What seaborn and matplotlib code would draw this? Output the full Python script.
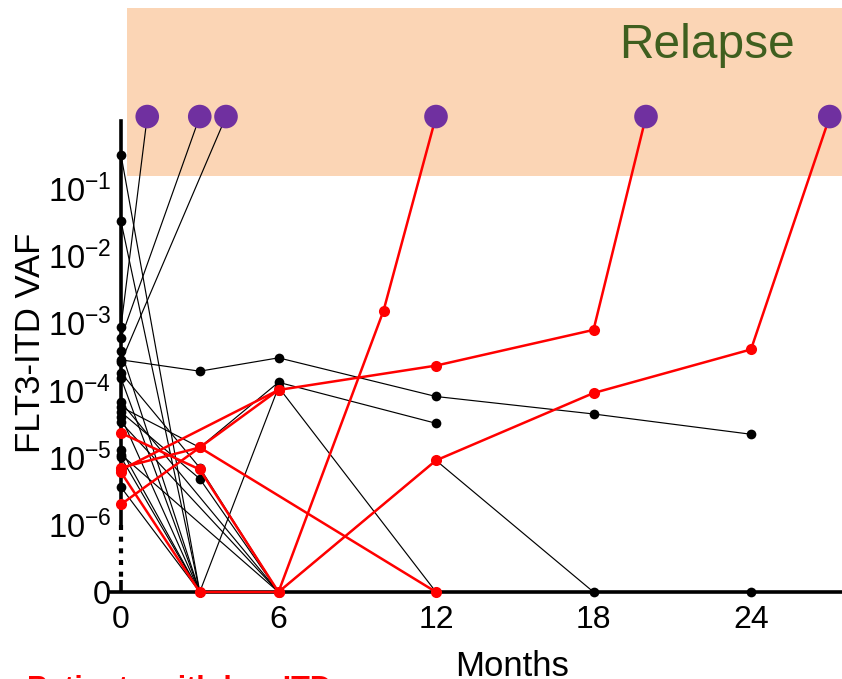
import numpy as np
import pandas as pd
import matplotlib
matplotlib.use("Agg")
import matplotlib.pyplot as plt
from matplotlib.ticker import NullLocator, FixedLocator, FixedFormatter
import seaborn as sns

# ---------------- data (months, FLT3-ITD VAF; 0 = undetectable, "R" = relapse) ----------------
R = "R"
# patients with black trajectories
b01_m, b01_v = [0, 3], [3.1e-1, 0]
b02_m, b02_v = [0, 3], [3.2e-2, 0]
b03_m, b03_v = [0, 1], [8.7e-4, R]
b04_m, b04_v = [0, 3], [5.9e-4, R]
b05_m, b05_v = [0, 4], [2.6e-4, R]
b06_m, b06_v = [0, 3, 6, 12, 18, 24], [2.8e-4, 1.9e-4, 3.0e-4, 8.0e-5, 4.4e-5, 2.2e-5]
b07_m, b07_v = [0, 3], [3.8e-4, 0]
b08_m, b08_v = [0, 3, 6], [1.8e-4, 7.0e-6, 0]
b09_m, b09_v = [0, 3, 6, 12], [1.5e-4, 0, 1.1e-4, 0]
b10_m, b10_v = [0, 6], [6.6e-5, 0]
b11_m, b11_v = [0, 3, 6, 12], [5.6e-5, 1.4e-5, 1.3e-4, 3.2e-5]
b12_m, b12_v = [0, 3, 6], [4.7e-5, 4.8e-6, 0]
b13_m, b13_v = [0, 3], [4.0e-5, 0]
b14_m, b14_v = [0, 6], [3.3e-5, 0]
b15_m, b15_v = [0, 3], [1.3e-5, 0]
b16_m, b16_v = [0, 6], [1.1e-5, 0]
b17_m, b17_v = [0, 3], [1.0e-5, 0]
b18_m, b18_v = [0, 3, 6, 12, 18, 24], [3.6e-6, 0, 0, 9.0e-6, 0, 0]
# patients with red trajectories
r01_m, r01_v = [0, 3, 6, 12, 18, 20], [2.0e-6, 1.4e-5, 1.0e-4, 2.3e-4, 7.8e-4, R]
r02_m, r02_v = [0, 6], [6.5e-6, 1.0e-4]
r03_m, r03_v = [0, 3, 12], [7.0e-6, 1.4e-5, 0]
r04_m, r04_v = [0, 3, 6, 10, 12], [2.3e-5, 6.6e-6, 0, 1.5e-3, R]
r05_m, r05_v = [0, 3, 6, 12, 18, 24, 27], [6.0e-6, 0, 0, 9.0e-6, 9.0e-5, 4.0e-4, R]

x_ticks = [0, 6, 12, 18, 24]
y_ticks = [1e-7, 1e-6, 1e-5, 1e-4, 1e-3, 1e-2, 1e-1, 1e0]
y_ticklabels = ["0", r"$\mathregular{10^{-6}}$", r"$\mathregular{10^{-5}}$", r"$\mathregular{10^{-4}}$",
                r"$\mathregular{10^{-3}}$", r"$\mathregular{10^{-2}}$", r"$\mathregular{10^{-1}}$", ""]

ZERO_LEVEL = 1e-7          # where "0" (undetectable) is drawn on the broken log axis
RELAPSE_LEVEL = 10 ** 0.06  # where relapse points are drawn

black_patients = [("b01", b01_m, b01_v), ("b02", b02_m, b02_v), ("b03", b03_m, b03_v),
                  ("b04", b04_m, b04_v), ("b05", b05_m, b05_v), ("b06", b06_m, b06_v),
                  ("b07", b07_m, b07_v), ("b08", b08_m, b08_v), ("b09", b09_m, b09_v),
                  ("b10", b10_m, b10_v), ("b11", b11_m, b11_v), ("b12", b12_m, b12_v),
                  ("b13", b13_m, b13_v), ("b14", b14_m, b14_v), ("b15", b15_m, b15_v),
                  ("b16", b16_m, b16_v), ("b17", b17_m, b17_v), ("b18", b18_m, b18_v)]
red_patients = [("r01", r01_m, r01_v), ("r02", r02_m, r02_v), ("r03", r03_m, r03_v),
                ("r04", r04_m, r04_v), ("r05", r05_m, r05_v)]


def level(v):
    if v == R:
        return RELAPSE_LEVEL
    if v == 0:
        return ZERO_LEVEL
    return v


rows = []
for grp, plist in (("black", black_patients), ("red", red_patients)):
    for pid, ms, vs in plist:
        for m, v in zip(ms, vs):
            rows.append(dict(patient=pid, group=grp, month=m, level=level(v), relapse=(v == R)))
df = pd.DataFrame(rows)

# ---------------- style ----------------
sns.set_theme(style="white")
plt.rcParams["font.family"] = ["Liberation Sans", "DejaVu Sans"]
plt.rcParams["mathtext.fontset"] = "custom"
plt.rcParams["mathtext.rm"] = "Liberation Sans"
plt.rcParams["mathtext.it"] = "Liberation Sans:italic"
plt.rcParams["mathtext.bf"] = "Liberation Sans:bold"

W, H = 842, 679
fig = plt.figure(figsize=(W / 100, H / 100), dpi=100)
ax = fig.add_axes([110 / W, (H - 592) / H, (W - 110) / W, (592 - 8) / H])
ax.set_yscale("log")
ax.set_facecolor("white")

# relapse band
ax.axhspan(0.15, 10 ** 1.672, xmin=(127 - 110) / (W - 110), xmax=1, color="#FBD5B5", lw=0, zorder=0)

sns.lineplot(data=df[df.group == "black"], x="month", y="level", units="patient", estimator=None,
             sort=False, color="black", linewidth=0.85, marker="o", markersize=7,
             markeredgewidth=0, legend=False, ax=ax)
sns.lineplot(data=df[df.group == "red"], x="month", y="level", units="patient", estimator=None,
             sort=False, color="#FF0000", linewidth=1.8, marker="o", markersize=8,
             markeredgewidth=0, legend=False, ax=ax)
for ln in ax.lines:
    ln.set_clip_on(False)
    ln.set_zorder(3)

sns.scatterplot(data=df[df.relapse], x="month", y="level", s=17 ** 2, color="#7030A0",
                edgecolor="none", legend=False, zorder=5, ax=ax)
for c in ax.collections:
    c.set_clip_on(False)

ax.set_xlim(-11 / 26.25, (W - 121) / 26.25)
ax.set_ylim(ZERO_LEVEL, 10 ** 1.672)

# axes / spines
for s in ("top", "right"):
    ax.spines[s].set_visible(False)
ax.spines["left"].set_position(("data", 0))
ax.spines["left"].set_bounds(1e-6, 1)
for s in ("left", "bottom"):
    ax.spines[s].set_linewidth(2.6)
    ax.spines[s].set_color("black")
    ax.spines[s].set_zorder(2.5)

# broken part of the y axis (dotted between 10^-6 and 0)
ax.plot([0, 0], [1e-6, 10 ** -6.78], color="black", lw=3.0, ls=(0, (1.2, 1.6)), clip_on=False, zorder=2.5)
ax.plot([0, 0], [10 ** -6.82, ZERO_LEVEL], color="black", lw=2.6, clip_on=False, zorder=2.5,
        solid_capstyle="butt")

ax.xaxis.set_major_locator(FixedLocator(x_ticks))
ax.set_xticklabels([str(t) for t in x_ticks])
ax.yaxis.set_major_locator(FixedLocator(y_ticks))
ax.yaxis.set_major_formatter(FixedFormatter(y_ticklabels))
ax.yaxis.set_minor_locator(NullLocator())
ax.xaxis.set_minor_locator(NullLocator())
ax.tick_params(axis="both", which="major", direction="out", length=6, width=2.6,
               labelsize=23, pad=3, color="black", labelcolor="black")
ax.tick_params(axis="y", pad=1, labelsize=23.5)
ax.set_xlabel("")
ax.set_ylabel("")

# texts
fig.text(707 / W, 1 - 46 / H, "Relapse", fontsize=34.5, color="#3F5F1F", ha="center", va="center")
fig.text(31 / W, 1 - 343 / H, "FLT3-ITD VAF", fontsize=25, rotation=90, ha="center", va="center",
         color="black")
fig.text(512 / W, 1 - 676 / H, "Months", fontsize=25, ha="center", va="baseline", color="black")
fig.text(27 / W, 1 - 698 / H, "Patients with low ITD", fontsize=22, fontweight="bold",
         color="#FF0000", ha="left", va="baseline")

fig.savefig("out.png", dpi=100)
